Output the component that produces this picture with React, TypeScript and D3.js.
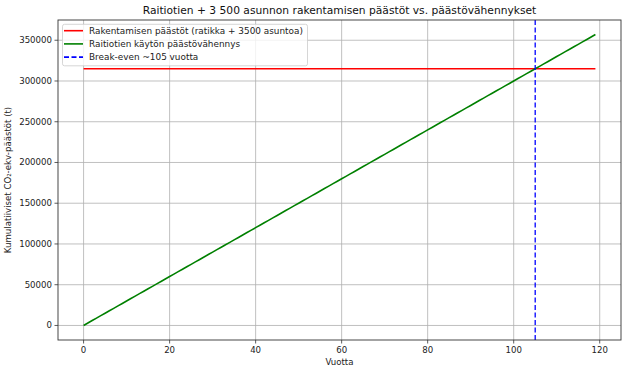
import React from "react";
import * as d3 from "d3";

const years: number[] = d3.range(0, 120);
const annualReduction = 3000;
const constructionEmissions = 315000;
const breakEvenYear = 105;
const reductionValues: number[] = years.map((y) => y * annualReduction);
const xTicks = [0, 20, 40, 60, 80, 100, 120];
const yTicks = [0, 50000, 100000, 150000, 200000, 250000, 300000, 350000];
const legendLabels = [
  "Rakentamisen päästöt (ratikka + 3500 asuntoa)",
  "Raitiotien käytön päästövähennys",
  "Break-even ~105 vuotta",
];

const W = 624;
const H = 373;
const L = 58, R = 621, T = 20, B = 340;
const font = "DejaVu Sans, sans-serif";

export default function App() {
  const xMax = years[years.length - 1];
  const yMax = reductionValues[reductionValues.length - 1];
  const x = d3.scaleLinear().domain([-0.05 * xMax, xMax * 1.05]).range([L, R]);
  const y = d3.scaleLinear().domain([-0.05 * yMax, yMax * 1.05]).range([B, T]);
  const line = d3.line<number>().x((_, i) => x(years[i])).y((d) => y(d));
  const redLine = d3.line<number>().x((d) => x(d)).y(() => y(constructionEmissions));
  const colors = ["#ff0000", "#008000", "#0000ff"];
  return (
    <svg width={W} height={H} style={{ position: "absolute", left: 0, top: 0, background: "#fff" }}>
      <rect x={0} y={0} width={W} height={H} fill="#fff" />
      <g>
        {xTicks.map((t) => (
          <line key={"gx" + t} x1={x(t)} x2={x(t)} y1={T} y2={B} stroke="#b0b0b0" strokeWidth={0.8} />
        ))}
        {yTicks.map((t) => (
          <line key={"gy" + t} x1={L} x2={R} y1={y(t)} y2={y(t)} stroke="#b0b0b0" strokeWidth={0.8} />
        ))}
      </g>
      <path d={redLine([years[0], xMax]) || ""} stroke={colors[0]} strokeWidth={1.6} fill="none" />
      <path d={line(reductionValues) || ""} stroke={colors[1]} strokeWidth={1.6} fill="none" />
      <line x1={x(breakEvenYear)} x2={x(breakEvenYear)} y1={T} y2={B} stroke={colors[2]} strokeWidth={1.3} strokeDasharray="5,2.5" />
      <rect x={L} y={T} width={R - L} height={B - T} fill="none" stroke="#333" strokeWidth={0.9} />
      {xTicks.map((t) => (
        <g key={"tx" + t}>
          <line x1={x(t)} x2={x(t)} y1={B} y2={B + 3.5} stroke="#333" strokeWidth={0.8} />
          <text x={x(t)} y={B + 13} fontSize={8.6} fontFamily={font} textAnchor="middle" fill="#222">{t}</text>
        </g>
      ))}
      {yTicks.map((t) => (
        <g key={"ty" + t}>
          <line x1={L - 3.5} x2={L} y1={y(t)} y2={y(t)} stroke="#333" strokeWidth={0.8} />
          <text x={L - 6} y={y(t) + 3} fontSize={8.6} fontFamily={font} textAnchor="end" fill="#222">{t}</text>
        </g>
      ))}
      <text x={(L + R) / 2} y={365} fontSize={8.6} fontFamily={font} textAnchor="middle" fill="#222">Vuotta</text>
      <text transform={`translate(11,${(T + B) / 2}) rotate(-90)`} fontSize={8.6} fontFamily={font} textAnchor="middle" fill="#222">Kumulatiiviset CO₂-ekv-päästöt (t)</text>
      <text x={(L + R) / 2} y={14} fontSize={10.7} fontFamily={font} textAnchor="middle" fill="#111">Raitiotien + 3 500 asunnon rakentamisen päästöt vs. päästövähennykset</text>
      <g>
        <rect x={62.5} y={24.3} width={245} height={41.5} rx={2} fill="#fff" fillOpacity={0.8} stroke="#ccc" strokeWidth={0.8} />
        {legendLabels.map((lab, i) => (
          <g key={lab}>
            <line x1={64} x2={83} y1={30.7 + i * 13.2} y2={30.7 + i * 13.2} stroke={colors[i]} strokeWidth={1.6} strokeDasharray={i === 2 ? "5,2.5" : undefined} />
            <text x={89} y={33.8 + i * 13.2} fontSize={8.9} fontFamily={font} fill="#222">{lab}</text>
          </g>
        ))}
      </g>
    </svg>
  );
}
